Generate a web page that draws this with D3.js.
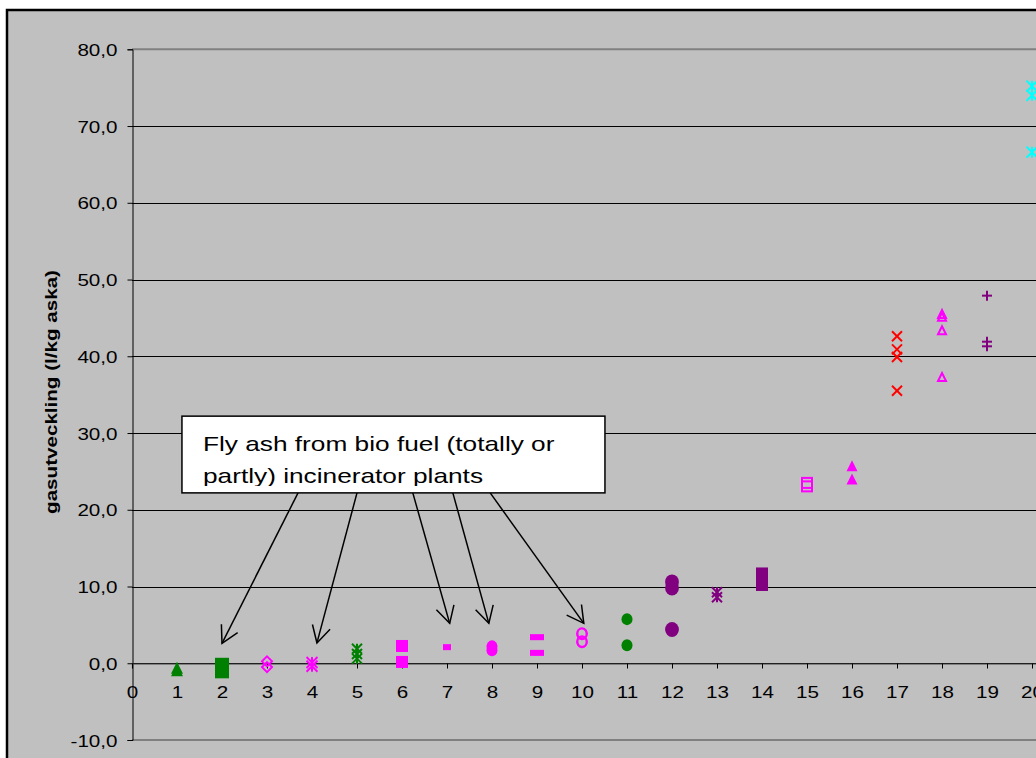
<!DOCTYPE html>
<html><head><meta charset="utf-8">
<script src="https://cdn.jsdelivr.net/npm/d3@7"></script>
<style>
body{margin:0;background:#fff}
svg{display:block}
text{font-family:"Liberation Sans",Arial,sans-serif;fill:#000}
</style>
</head><body>
<svg id="c" width="1036" height="758"></svg>
<script>
// ---- data ----
const categories = [1,2,3,4,5,6,7,8,9,10,11,12,13,14,15,16,17,18,19,20];
const v1  = [-0.6, -0.9];
const v2  = [-0.2, -1.05];
const v3  = [0.25, -0.5];
const v4  = [0.1, -0.4];
const v5  = [1.9, 1.2, 0.6];
const v6  = [2.25, 0.17];
const v7  = [2.1];
const v8  = [2.2, 1.7];
const v9  = [3.4, 1.35];
const v10 = [3.85, 2.8];
const v11 = [5.75, 2.35];
const v12 = [10.6, 9.8, 4.4];
const v13 = [9.25, 8.6];
const v14 = [11.7, 10.2];
const v15 = [23.5, 23.05];
const v16 = [25.75, 24.0];
const v17 = [42.6, 40.9, 39.9, 35.5];
const v18 = [45.5, 45.15, 43.4, 37.3];
const v19 = [47.9, 41.9, 41.3];
const v20 = [75.2, 74.0, 66.6];
const seriesValues = [v1,v2,v3,v4,v5,v6,v7,v8,v9,v10,v11,v12,v13,v14,v15,v16,v17,v18,v19,v20];
const xTicks = [0,1,2,3,4,5,6,7,8,9,10,11,12,13,14,15,16,17,18,19,20];
const yTicks = [-10,0,10,20,30,40,50,60,70,80];
const yTitle = "gasutveckling (l/kg aska)";
const noteLines = ["Fly ash from bio fuel (totally or", "partly) incinerator plants"];
// annotation geometry in data units
const noteBox = {x0: 1.11, x1: 10.51, yTop: 32.2, yBottom: 22.2};
const arrowFrom = [[3.69,22.2],[5.0,22.2],[6.24,22.2],[7.13,22.2],[7.96,22.2]];
const arrowTo   = [[2.0,2.6],[4.11,2.65],[7.06,5.2],[7.93,5.2],[10.04,5.2]];

// ---- styles ----
const G="#008000", M="#FF00FF", P="#800080", R="#FF0000", C="#00FFFF";
const seriesColors = [G,G,M,M,G,M,M,M,M,M,G,P,P,P,M,M,R,M,P,C];
const seriesShapes = ["tri","sq","diaO","star","star","sq","dash","circ","dash","circO","circ","circ","star","sq","sqO","tri","x","triO","plus","star"];
const seriesSizes  = [12,14,12,11,10,12,8,12,14,13,12,15,10,12,12,11,10,10,10,11];
const TX = 1.25; // horizontal stretch of text in the reference

const svg = d3.select("#c");
const x = d3.scaleLinear().domain([0,22]).range([132, 1122]);
const y = d3.scaleLinear().domain([-10,80]).range([740, 49.3]);

// chart area
svg.append("rect").attr("x",7).attr("y",10).attr("width",1200).attr("height",900)
  .attr("fill","#C0C0C0").attr("stroke","#000").attr("stroke-width",2.5);

// gridlines
svg.append("g").selectAll("line").data(yTicks.filter(d=>d>-10 && d<80)).join("line")
  .attr("x1",x(0)).attr("x2",x(22))
  .attr("y1",d=>Math.round(y(d))+0.5).attr("y2",d=>Math.round(y(d))+0.5)
  .attr("stroke","#000").attr("stroke-width",1);
// plot border top/bottom
[80,-10].forEach(d=>{
  svg.append("line").attr("x1",x(0)).attr("x2",x(22))
    .attr("y1",y(d)).attr("y2",y(d)).attr("stroke","#808080").attr("stroke-width",2);
});

// y axis
const yAxis = d3.axisLeft(y).tickValues(yTicks).tickSize(5)
  .tickFormat(d=>d3.format(".1f")(d).replace(".",",").replace("\u2212","-"));
const ga = svg.append("g").attr("transform",`translate(${Math.round(x(0))+0.5},0)`).call(yAxis);
ga.select(".domain").attr("stroke","#000");
ga.selectAll(".tick line").attr("stroke","#000");
ga.selectAll(".tick text").attr("font-size",16.5).attr("x",0).attr("dy",null).attr("y",0)
  .attr("text-anchor","end")
  .attr("transform",`translate(-15,6) scale(${TX},1)`);

// x axis at y=0
const xAxis = d3.axisBottom(x).tickValues(xTicks).tickSize(5).tickFormat(d3.format("d"));
const gx = svg.append("g").attr("transform",`translate(0,${Math.round(y(0))+0.5})`).call(xAxis);
gx.select(".domain").attr("stroke","#404040").attr("stroke-width",1.2);
gx.selectAll(".tick line").attr("stroke","#000");
gx.selectAll(".tick text").attr("font-size",16.5).attr("y",0).attr("dy",null)
  .attr("text-anchor","middle")
  .attr("transform",`translate(0,34) scale(${TX},1)`);

// y title
svg.append("text").attr("transform",`translate(57,392) rotate(-90) scale(${TX},1)`)
  .attr("text-anchor","middle").attr("font-size",16.5).attr("font-weight","bold").text(yTitle);

// markers
const mk = svg.append("g");
seriesValues.forEach((vals,i)=>{
  const col = seriesColors[i], sh = seriesShapes[i], s = seriesSizes[i], h = s/2;
  vals.forEach(v=>{
    const g = mk.append("g").attr("transform",`translate(${x(categories[i])},${y(v)})`);
    if(sh==="tri") g.append("path").attr("d",`M0,${-h}L${h},${h}L${-h},${h}Z`).attr("fill",col);
    else if(sh==="triO") g.append("path").attr("d",`M0,${-h+1}L${h-1},${h-1}L${-h+1},${h-1}Z`).attr("fill","none").attr("stroke",col).attr("stroke-width",2);
    else if(sh==="sq") g.append("rect").attr("x",-h).attr("y",-h).attr("width",s).attr("height",s).attr("fill",col);
    else if(sh==="sqO") g.append("rect").attr("x",-h+1).attr("y",-h+1).attr("width",s-2).attr("height",s-2).attr("fill","none").attr("stroke",col).attr("stroke-width",2);
    else if(sh==="diaO") g.append("path").attr("d",`M0,${-h+1}L${h-1},0L0,${h-1}L${-h+1},0Z`).attr("fill","none").attr("stroke",col).attr("stroke-width",2);
    else if(sh==="circ") g.append("ellipse").attr("rx",h*0.92).attr("ry",h).attr("fill",col);
    else if(sh==="circO") g.append("ellipse").attr("rx",h*0.92-1.2).attr("ry",h-1.2).attr("fill","none").attr("stroke",col).attr("stroke-width",2.4);
    else if(sh==="dash") g.append("rect").attr("x",-h).attr("y",-3).attr("width",s).attr("height",6).attr("fill",col);
    else {
      const segs = [];
      if(sh==="x"||sh==="star"){ segs.push([-h,-h,h,h],[-h,h,h,-h]); }
      if(sh==="plus"){ segs.push([-h,0,h,0],[0,-h,0,h]); }
      if(sh==="star"){ segs.push([0,-h,0,h]); }
      segs.forEach(q=>g.append("line").attr("x1",q[0]).attr("y1",q[1]).attr("x2",q[2]).attr("y2",q[3])
        .attr("stroke",col).attr("stroke-width",2));
    }
  });
});

// arrows
const ar = svg.append("g").attr("stroke","#000").attr("stroke-width",1.5).attr("fill","none");
arrowFrom.forEach((f,i)=>{
  const x1=x(f[0]), y1=y(f[1]), x2=x(arrowTo[i][0]), y2=y(arrowTo[i][1]);
  ar.append("line").attr("x1",x1).attr("y1",y1).attr("x2",x2).attr("y2",y2);
  const a = Math.atan2(y1-y2, x1-x2), L=19, w=0.5;
  ar.append("path").attr("d",`M${x2+L*Math.cos(a+w)},${y2+L*Math.sin(a+w)}L${x2},${y2}L${x2+L*Math.cos(a-w)},${y2+L*Math.sin(a-w)}`);
});

// annotation box
const bx0=x(noteBox.x0), bx1=x(noteBox.x1), by0=y(noteBox.yTop), by1=y(noteBox.yBottom);
svg.append("clipPath").attr("id","nc").append("rect").attr("x",bx0).attr("y",by0).attr("width",bx1-bx0).attr("height",by1-by0-7);
svg.append("rect").attr("x",bx0).attr("y",by0).attr("width",bx1-bx0).attr("height",by1-by0)
  .attr("fill","#fff").attr("stroke","#000").attr("stroke-width",1.5);
const nt = svg.append("g").attr("clip-path","url(#nc)");
noteLines.forEach((t,i)=>{
  nt.append("text").attr("transform",`translate(${bx0+21},${by0+35+i*31.5}) scale(${TX},1)`)
    .attr("font-size",21).text(t);
});
</script>
</body></html>
